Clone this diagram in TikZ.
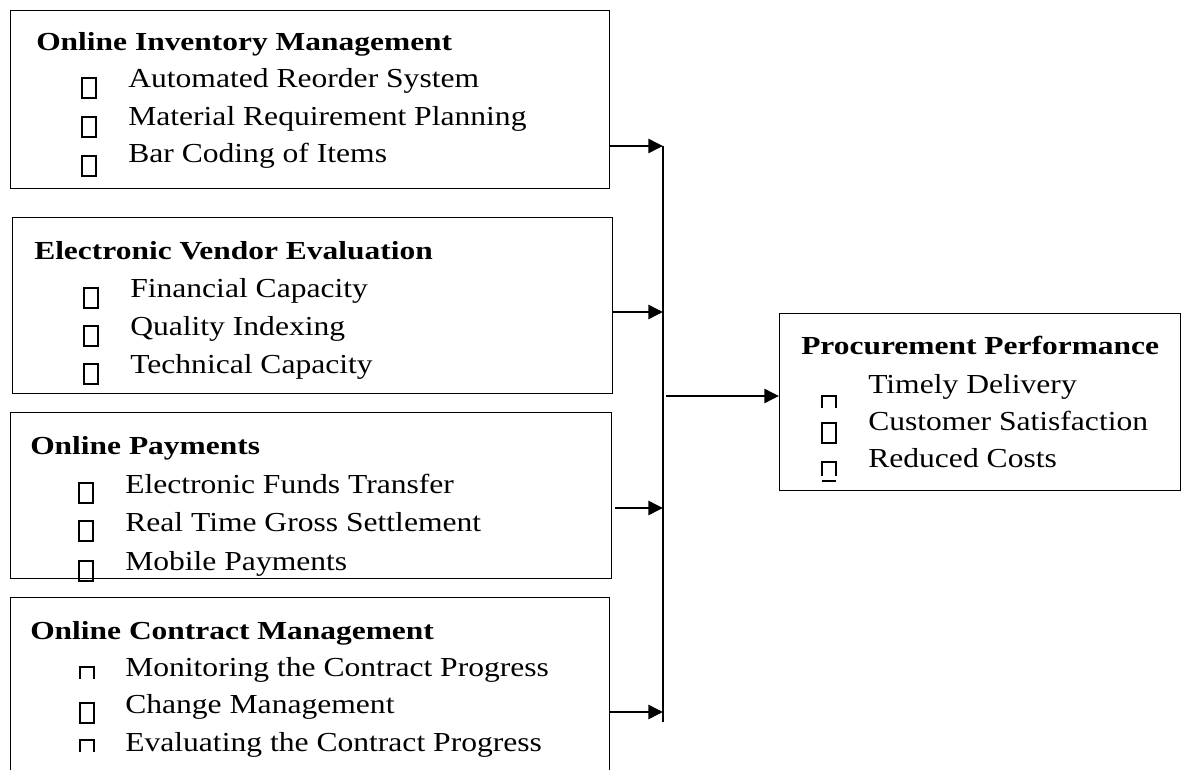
\documentclass[tikz,border=0pt]{standalone}
\usepackage{fontspec}
\setmainfont{Liberation Serif}
\newfontfamily\headfont{Liberation Serif}[FakeStretch=1.21]
\newfontfamily\itemfont{Liberation Serif}[FakeStretch=1.15]
\usetikzlibrary{arrows.meta}
\begin{document}
\begin{tikzpicture}[x=0.75pt,y=-0.75pt,
  panel/.style={draw=black,line width=1.1pt,inner sep=0pt,anchor=north west},
  head/.style={anchor=base west,inner sep=0pt,font=\headfont\bfseries\fontsize{19.5}{24}\selectfont},
  entry/.style={anchor=base west,inner sep=0pt,font=\itemfont\fontsize{20.6}{24}\selectfont},
  bul/.style={draw=black,line width=1.1pt},
  feed/.style={line width=1.9pt,-{Triangle[length=11pt,width=10.5pt]}},
  rail/.style={line width=2.2pt}]
\useasboundingbox (0,0) rectangle (1193,770);
\clip (0,0) rectangle (1193,770);

% box outlines
\node[panel,minimum width=599*0.75pt,minimum height=178*0.75pt] (inv) at (10,10) {};
\node[panel,minimum width=600*0.75pt,minimum height=176*0.75pt] (ven) at (12,217) {};
\node[panel,minimum width=601*0.75pt,minimum height=166*0.75pt] (pay) at (10,412) {};
\node[panel,minimum width=599*0.75pt,minimum height=185*0.75pt] (con) at (10,597) {};
\node[panel,minimum width=401*0.75pt,minimum height=177*0.75pt] (perf) at (779,313) {};

% headings
\node[head] (invh) at (36,51) {Online Inventory Management};
\node[head] (venh) at (34,260) {Electronic Vendor Evaluation};
\node[head] (payh) at (30,454) {Online Payments};
\node[head] (conh) at (30,639) {Online Contract Management};
\node[head] (perfh) at (801,354) {Procurement Performance};

% list entries
\node[entry] (inv1) at (128,88) {Automated Reorder System};
\node[entry] (inv2) at (128,126) {Material Requirement Planning};
\node[entry] (inv3) at (128,163) {Bar Coding of Items};
\node[entry] (ven1) at (130,297) {Financial Capacity};
\node[entry] (ven2) at (130,335) {Quality Indexing};
\node[entry] (ven3) at (130,373) {Technical Capacity};
\node[entry] (pay1) at (125,493) {Electronic Funds Transfer};
\node[entry] (pay2) at (125,531) {Real Time Gross Settlement};
\node[entry] (pay3) at (125,570) {Mobile Payments};
\node[entry] (con1) at (125,676) {Monitoring the Contract Progress};
\node[entry] (con2) at (125,713) {Change Management};
\node[entry] (con3) at (125,751) {Evaluating the Contract Progress};
\node[entry] (perf1) at (868,393) {Timely Delivery};
\node[entry] (perf2) at (868,430) {Customer Satisfaction};
\node[entry] (perf3) at (868,467) {Reduced Costs};

% square bullets
\foreach \x/\y in {82/78,82/117,82/156, 84/288,84/326,84/364, 79/483,79/521,79/561, 80/703, 822/423}
  \draw[bul] (\x,\y) rectangle ++(14,20);
% open-bottom bullets
\foreach \x/\y/\h in {80/667/12,80/740/12,822/396/12,822/462/14}
  \draw[bul] (\x,\y+\h) -- (\x,\y) -- (\x+14,\y) -- (\x+14,\y+\h);
\draw[bul] (822,481) -- (836,481);

% connectors
\coordinate (top) at (663,146);
\coordinate (bot) at (663,722);
\coordinate (mid) at (666,396);
\draw[rail] (top) -- (bot);
\draw[feed] (inv.east |- top) -- (top);
\draw[feed] (ven.east |- 0,312) -- (663,312);
\draw[feed] ([xshift=2pt]pay.east |- 0,508) -- (663,508);
\draw[feed] (con.east |- 0,712) -- (663,712);
\draw[feed] (mid) -- (perf.west |- mid);
\end{tikzpicture}
\end{document}
